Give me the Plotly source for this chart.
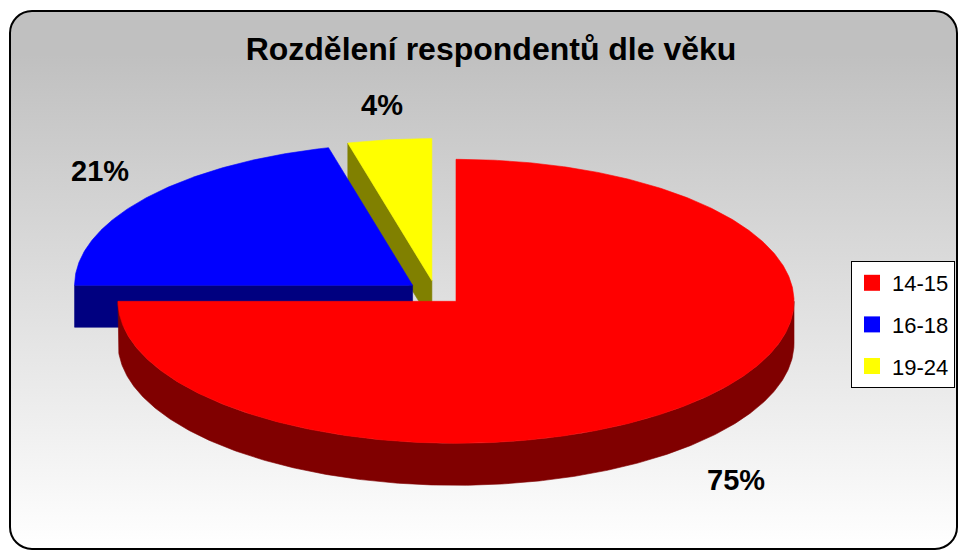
import base64
import numpy as np
import plotly.graph_objects as go

# ---------------- data ----------------
categories = ["14-15", "16-18", "19-24"]
values = [75, 21, 4]
title_text = "Rozdělení respondentů dle věku"

# ---------------- style ----------------
top_colors = ["#FF0000", "#0000FF", "#FFFF00"]
side_colors = ["#800000", "#000080", "#808000"]

PAGE_W, PAGE_H = 966, 558
OFF = 8                                   # default page body margin
W, H = PAGE_W - 2 * OFF, PAGE_H - 2 * OFF # figure size (no page overflow)
X_END, Y_END = OFF + W, OFF + H           # last page pixel covered by figure

# 3D pie geometry (page pixel units; axes are mapped onto page pixels)
CX, CY = 435.5, 292.7      # centre of un-exploded pie
RX, RY = 338.0, 142.0      # ellipse radii of top face
DEPTH = 42.0               # thickness of the pie
EXPLODE = 29.0             # explosion distance
LABEL_GX, LABEL_GY = 58.0, 20.0
LABEL_HALF = 15.0

FONT = "Arial, 'Liberation Sans', sans-serif"

total = float(sum(values))
fracs = [v / total for v in values]
starts = np.concatenate([[0.0], np.cumsum(fracs)[:-1]]) * 360.0
ends = np.cumsum(fracs) * 360.0


def pt(cx, cy, theta_deg, scale=1.0):
    t = np.radians(theta_deg)
    return cx + RX * scale * np.sin(t), cy - RY * scale * np.cos(t)


def arc(cx, cy, a, b, n_per_deg=2):
    n = max(int(abs(b - a) * n_per_deg), 2)
    th = np.linspace(a, b, n)
    x, y = pt(cx, cy, th)
    return list(x), list(y)


fig = go.Figure()

slices = []
for i in range(len(values)):
    a, b = starts[i], ends[i]
    mid = (a + b) / 2.0
    m = np.radians(mid)
    cx = CX + EXPLODE * np.sin(m)
    cy = CY - EXPLODE * (RY / RX) * np.cos(m)
    slices.append(dict(i=i, a=a, b=b, mid=mid, cx=cx, cy=cy))

# painter's order: back slices first
order = sorted(slices, key=lambda s: -np.cos(np.radians(s["mid"])))


def add_poly(xs, ys, color):
    fig.add_trace(go.Scatter(
        x=xs, y=ys, mode="lines", fill="toself", fillcolor=color,
        line=dict(width=0.6, color=color), hoverinfo="skip", showlegend=False))


for s in order:
    i, a, b, cx, cy = s["i"], s["a"], s["b"], s["cx"], s["cy"]
    side = side_colors[i]
    # visible radial cut faces
    for ang, visible in ((a, np.sin(np.radians(a)) < -1e-6),
                         (b, np.sin(np.radians(b)) > 1e-6)):
        if visible:
            ex, ey = pt(cx, cy, ang)
            add_poly([cx, ex, ex, cx, cx], [cy, ey, ey + DEPTH, cy + DEPTH, cy], side)
    # visible outer side (front half: 90..270 deg)
    lo, hi = max(a, 90.0), min(b, 270.0)
    if hi > lo:
        xt, yt = arc(cx, cy, lo, hi)
        xb, yb = xt[::-1], [y + DEPTH for y in yt[::-1]]
        add_poly(xt + xb + [xt[0]], yt + yb + [yt[0]], side)
    # top face
    xa, ya = arc(cx, cy, a, b)
    add_poly([cx] + xa + [cx], [cy] + ya + [cy], top_colors[i])

# legend entries
for i, c in enumerate(categories):
    fig.add_trace(go.Scatter(
        x=[None], y=[None], mode="markers", name=c, legendgroup=c,
        marker=dict(symbol="square", size=16, color=top_colors[i],
                    line=dict(width=0)),
        hoverinfo="skip"))

# percentage labels
annotations = []
for s in slices:
    m = np.radians(s["mid"])
    lx = s["cx"] + (RX + LABEL_GX) * np.sin(m)
    ly = s["cy"] - (RY + LABEL_GY) * np.cos(m)
    if np.cos(m) < 0:
        ly += DEPTH * 1.17 + LABEL_HALF
    else:
        ly -= LABEL_HALF
    annotations.append(dict(
        x=lx, y=ly, xref="x", yref="y", showarrow=False,
        text=f"{values[s['i']] / total * 100:.0f}%",
        font=dict(family=FONT, size=29, color="#000000", weight="bold"),
        xanchor="center", yanchor="middle"))

# background frame with vertical gradient (drawn in page coordinates)
frame_l, frame_t, frame_r, frame_b = 10, 11, X_END - 1, Y_END - 1
svg = (
    f'<svg xmlns="http://www.w3.org/2000/svg" width="{W}" height="{H}" '
    f'viewBox="{OFF} {OFF} {W} {H}" preserveAspectRatio="none">'
    '<defs><linearGradient id="g" x1="0" y1="0" x2="0" y2="1">'
    '<stop offset="0" stop-color="#c0c0c0"/><stop offset="0.08" stop-color="#c0c0c0"/>'
    '<stop offset="1" stop-color="#ffffff"/></linearGradient></defs>'
    f'<rect x="{frame_l}" y="{frame_t}" width="{frame_r - frame_l}" '
    f'height="{frame_b - frame_t}" rx="22" ry="22" '
    'fill="url(#g)" stroke="#000000" stroke-width="2"/></svg>'
)
svg_uri = "data:image/svg+xml;base64," + base64.b64encode(svg.encode("utf-8")).decode("ascii")

fig.update_layout(
    width=W, height=H,
    margin=dict(l=0, r=0, t=0, b=0),
    paper_bgcolor="#ffffff",
    plot_bgcolor="rgba(0,0,0,0)",
    xaxis=dict(range=[OFF, X_END], visible=False, fixedrange=True),
    yaxis=dict(range=[Y_END, OFF], visible=False, fixedrange=True),
    title=dict(text=title_text, x=(491 - OFF) / W, xanchor="center",
               y=1 - (49 - OFF) / H, yanchor="middle", yref="container",
               font=dict(family=FONT, size=32, color="#000000", weight="bold")),
    legend=dict(x=(X_END - 3 - OFF) / W, y=1 - (261 - OFF) / H, xanchor="right", yanchor="top",
                bgcolor="#ffffff", bordercolor="#000000", borderwidth=1,
                font=dict(family=FONT, size=22, color="#000000"),
                tracegroupgap=10, itemclick=False, itemdoubleclick=False),
    annotations=annotations,
    images=[dict(source=svg_uri, xref="paper", yref="paper", x=0, y=1,
                 sizex=1, sizey=1, sizing="stretch", layer="below",
                 xanchor="left", yanchor="top")],
    showlegend=True,
)

fig.write_html("out.html")
